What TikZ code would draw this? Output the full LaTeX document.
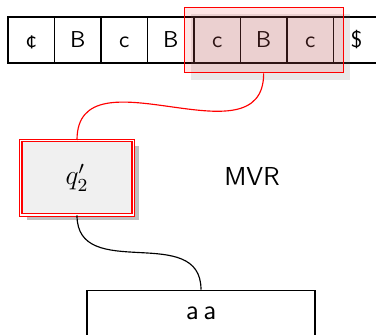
\documentclass[tikz,border=0pt]{standalone}
\usepackage{amsmath}
\usetikzlibrary{positioning,shadows,fit}

\begin{document}
\begin{tikzpicture}[x=0.435pt,y=0.435pt,
		cell/.style={draw, line width=0.6pt, minimum width=20.22pt, minimum height=20pt, inner sep=0pt, outer sep=0pt, text height=6.96pt, text depth=0pt, font=\sffamily},
		lastcell/.style={cell, draw=none},
		win/.style={draw=red, line width=0.5pt, fill=red, fill opacity=0.1, inner sep=4.26pt, drop shadow={shadow xshift=3.04pt, shadow yshift=-3.04pt, opacity=0.18}},
		state/.style={draw=red, double, line width=0.5pt, double distance=0.6pt, fill=black!6, minimum width=48.9pt, minimum height=32.3pt, inner sep=0pt, font=\large, drop shadow={shadow xshift=2.5pt, shadow yshift=-2.2pt}},
		tbox/.style={draw, line width=0.5pt, minimum width=99.2pt, minimum height=20.4pt, inner sep=0pt, font=\sffamily\large},
		lab/.style={font=\sffamily\fontsize{11.3}{13}\selectfont},
		ed/.style={line width=0.5pt}
		]
		\useasboundingbox (0,0) rectangle (376,335);
		% tape
		\node[cell] (t1) at (31.25,295) {\textcent};
		\node[cell, right=0pt of t1] (t2) {B};
		\node[cell, right=0pt of t2] (t3) {c};
		\node[cell, right=0pt of t3] (t4) {B};
		\node[cell, right=0pt of t4] (t5) {c};
		\node[cell, right=0pt of t5] (t6) {B};
		\node[cell, right=0pt of t6] (t7) {c};
		\node[lastcell, right=0pt of t7] (t8) {\$};
		\draw[line width=0.6pt] (t8.north west) -- (t8.north east) (t8.south west) -- (t8.south east);
		% window on the tape
		\node[win, fit=(t5)(t7)] (w) {};
		\node[state] (q) at (77,157.3) {$q'_2$};
		\node[lab] (mvr) at (252,159) {MVR};
		\node[tbox] (tp) at (201,21.3) {a\,a};
		\draw[ed, red] (w.south) to[out=-90, in=90, looseness=1.2] (q.north);
		\draw[ed] (q.south) to[out=-90, in=90, looseness=1.2] (tp.north);
	\end{tikzpicture}
\end{document}
